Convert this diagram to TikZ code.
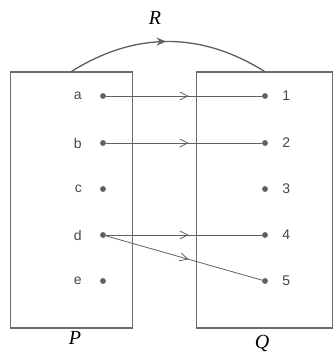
\documentclass[tikz,border=0pt]{standalone}
\usepackage{fontspec}
\setmainfont{Liberation Serif}
\setsansfont{Liberation Sans}
\usetikzlibrary{arrows.meta,decorations.markings,positioning}

\begin{document}
\begin{tikzpicture}[x=0.75pt,y=-0.75pt,
        setbox/.style={rectangle, draw=gray!85!black, line width=0.9pt,
                       minimum height=192pt, inner sep=0pt},
        pt/.style={circle, fill=gray!75!black, inner sep=0pt, minimum size=4.4pt},
        elem/.style={font=\sffamily\fontsize{10.5}{12}\selectfont, text=gray!55!black},
        setname/.style={font=\itshape\fontsize{15}{18}\selectfont},
        maps/.style={draw=gray!75!black, line width=0.6pt, postaction={decorate},
                     decoration={markings, mark=at position 0.53 with
                       {\arrow{Straight Barb[length=6pt, width=6pt, line width=0.6pt]}}}},
        rel/.style={draw=gray!75!black, line width=1pt, postaction={decorate},
                    decoration={markings, mark=at position 0.49 with
                      {\arrow{Stealth[length=7pt, width=6pt]}}}}]
        \useasboundingbox (0,0) rectangle (335,356);
        % the two sets
        \node[setbox, minimum width=92pt] (P) at (71.5,200) {};
        \node[setbox, minimum width=102.5pt] (Q) at (264.5,200) {};
        \node[setname] (Plab) at (75,338) {P};
        \node[setname] (Qlab) at (262,343) {Q};
        \node[setname] (Rlab) at (155,18) {R};
        % elements of P
        \node[pt] (a) at (103,96) {};
        \node[pt] (b) at (103,143) {};
        \node[pt] (c) at (103,189) {};
        \node[pt] (d) at (103,235) {};
        \node[pt] (e) at (103,281) {};
        \node[elem, left=10pt of a] (alab) {a};
        \node[elem, left=10pt of b] (blab) {b};
        \node[elem, left=10pt of c] (clab) {c};
        \node[elem, left=10pt of d] (dlab) {d};
        \node[elem, left=10pt of e] (elab) {e};
        % elements of Q
        \node[pt] (q1) at (265,96) {};
        \node[pt] (q2) at (265,143) {};
        \node[pt] (q3) at (265,189) {};
        \node[pt] (q4) at (265,235) {};
        \node[pt] (q5) at (265,281) {};
        \node[elem, right=7pt of q1] (lab1) {1};
        \node[elem, right=7pt of q2] (lab2) {2};
        \node[elem, right=7pt of q3] (lab3) {3};
        \node[elem, right=7pt of q4] (lab4) {4};
        \node[elem, right=7pt of q5] (lab5) {5};
        % the relation
        \draw[maps] (a) -- (q1);
        \draw[maps] (b) -- (q2);
        \draw[maps] (d) -- (q4);
        \draw[maps] (d) -- (q5);
        \draw[rel] (P.north) to[bend left=32] (Q.north);
    \end{tikzpicture}
\end{document}
